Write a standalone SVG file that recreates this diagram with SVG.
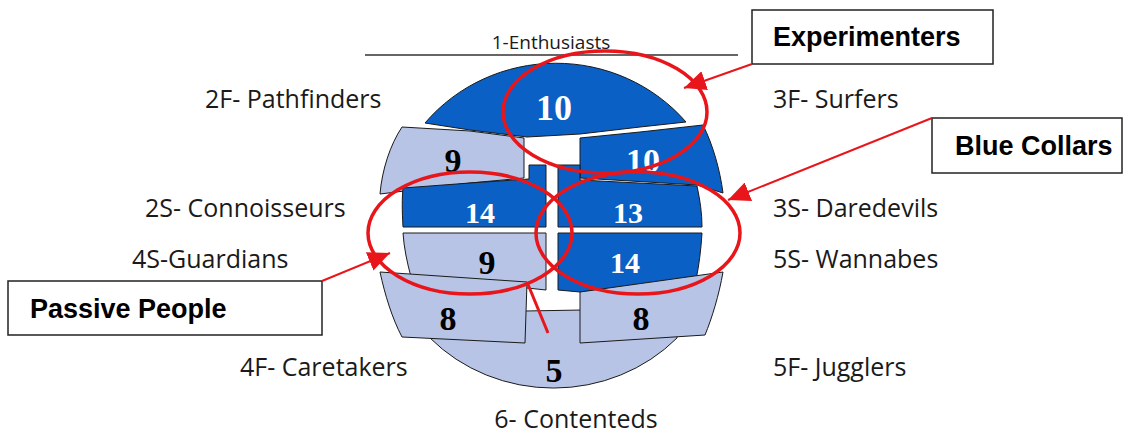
<svg xmlns="http://www.w3.org/2000/svg" width="1125" height="434" viewBox="0 0 1125 434">
<style>
.dark{fill:#0B60C6;stroke:#1a1a1a;stroke-width:1}
.light{fill:#B8C4E6;stroke:#1a1a1a;stroke-width:1}
.lbl{font-family:"Open Sans","Noto Sans",sans-serif;font-size:25px;fill:#1a1a1a}
.numw{font-family:"Liberation Serif",serif;font-weight:bold;fill:#ffffff;text-anchor:middle}
.numb{font-family:"Liberation Serif",serif;font-weight:bold;fill:#000000;text-anchor:middle}
.box{fill:#ffffff;stroke:#222;stroke-width:1.5}
.btxt{font-family:"Liberation Sans",Arial,sans-serif;font-weight:bold;font-size:27px;fill:#000}
.ring{fill:none;stroke:#E8161B;stroke-width:3.5}
.arr{fill:none;stroke:#E8161B;stroke-width:2}
</style>
<defs>
<marker id="ah" markerUnits="userSpaceOnUse" markerWidth="23" markerHeight="20" refX="22" refY="10" orient="auto">
<path d="M0,0 L22,10 L0,20 Z" fill="#E8161B"/>
</marker>
</defs>
<rect width="1125" height="434" fill="#ffffff"/>

<g id="n1-enthusiasts">
<line x1="365" y1="55" x2="738" y2="55" stroke="#333" stroke-width="1.5"/>
<text x="551" y="49" class="lbl" style="font-size:19px" text-anchor="middle">1-Enthusiasts</text>
<path class="dark" d="M425,123 A170,165 0 0 1 686,122 L640,127 L580,134 L527,137 L470,130 Z"/>
<text x="554" y="120" class="numw" font-size="36">10</text>
</g>

<g id="n2f-pathfinders">
<path class="light" d="M402,127 L470,131 L524,138 L524,178 L470,183 L380,194 C382,170 390,145 402,127 Z"/>
<text x="453" y="172" class="numb" font-size="34">9</text>
<text x="205" y="108" class="lbl">2F- Pathfinders</text>
</g>

<g id="n3f-surfers">
<path class="dark" d="M580,138 L640,132 L703,125 C713,145 720,170 723,193 L697,185 L580,178 Z"/>
<text x="643" y="172" class="numw" font-size="34">10</text>
<text x="773" y="108" class="lbl">3F- Surfers</text>
</g>

<g id="n2s-connoisseurs">
<path class="dark" d="M403,188 L470,183 L529,179 L529,165 L546,165 L546,227 L403,227 C402,210 402,198 403,188 Z"/>
<text x="480" y="223" class="numw" font-size="30">14</text>
<text x="145" y="217" class="lbl">2S- Connoisseurs</text>
</g>

<g id="n3s-daredevils">
<path class="dark" d="M558,165 L580,165 L580,180 L697,186 C700,200 702,213 702,227 L558,227 Z"/>
<text x="628" y="223" class="numw" font-size="30">13</text>
<text x="773" y="217" class="lbl">3S- Daredevils</text>
</g>

<g id="n4s-guardians">
<path class="light" d="M403,233 L546,233 L546,290 L480,283 L411,277 C407,262 404,248 403,233 Z"/>
<text x="487" y="274" class="numb" font-size="34">9</text>
<text x="132" y="268" class="lbl">4S-Guardians</text>
</g>

<g id="n5s-wannabes">
<path class="dark" d="M558,233 L702,233 C701,250 699,265 696,280 L580,292 L558,290 Z"/>
<text x="625" y="273" class="numw" font-size="30">14</text>
<text x="773" y="268" class="lbl">5S- Wannabes</text>
</g>

<g id="n6-contenteds">
<path class="light" d="M430,338 L430,322 L525,311 L582,310 L678,322 L677,338 A170,160 0 0 1 430,338 Z"/>
<text x="554" y="382" class="numb" font-size="34">5</text>
<text x="576" y="428" class="lbl" text-anchor="middle">6- Contenteds</text>
</g>

<g id="n4f-caretakers">
<path class="light" d="M380,272 L527,282 L525,343 L402,337 C392,318 385,295 380,272 Z"/>
<text x="448" y="330" class="numb" font-size="34">8</text>
<text x="240" y="376" class="lbl">4F- Caretakers</text>
</g>

<g id="n5f-jugglers">
<path class="light" d="M580,292 L723,272 C719,295 712,318 705,335 L580,343 Z"/>
<text x="641" y="330" class="numb" font-size="34">8</text>
<text x="773" y="376" class="lbl">5F- Jugglers</text>
</g>

<g id="experimenters">
<rect class="box" x="752" y="10" width="241" height="54"/>
<text x="773" y="46" class="btxt">Experimenters</text>
</g>

<g id="blue-collars">
<rect class="box" x="932" y="118" width="190" height="55"/>
<text x="955" y="155" class="btxt">Blue Collars</text>
</g>

<g id="passive-people">
<rect class="box" x="8" y="281" width="314" height="54"/>
<text x="30" y="318" class="btxt">Passive People</text>
</g>

<g id="connectors">
<ellipse class="ring" cx="605" cy="112" rx="102" ry="61"/>
<ellipse class="ring" cx="638" cy="233" rx="102" ry="61"/>
<ellipse class="ring" cx="470" cy="233" rx="102" ry="61"/>
<line class="arr" x1="752" y1="64" x2="684" y2="88" marker-end="url(#ah)"/>
<line class="arr" x1="932" y1="118" x2="728" y2="200" marker-end="url(#ah)"/>
<line class="arr" x1="322" y1="281" x2="390" y2="253" marker-end="url(#ah)"/>
<line class="arr" x1="527" y1="282" x2="548" y2="333" style="stroke-width:3"/>
</g>
</svg>
